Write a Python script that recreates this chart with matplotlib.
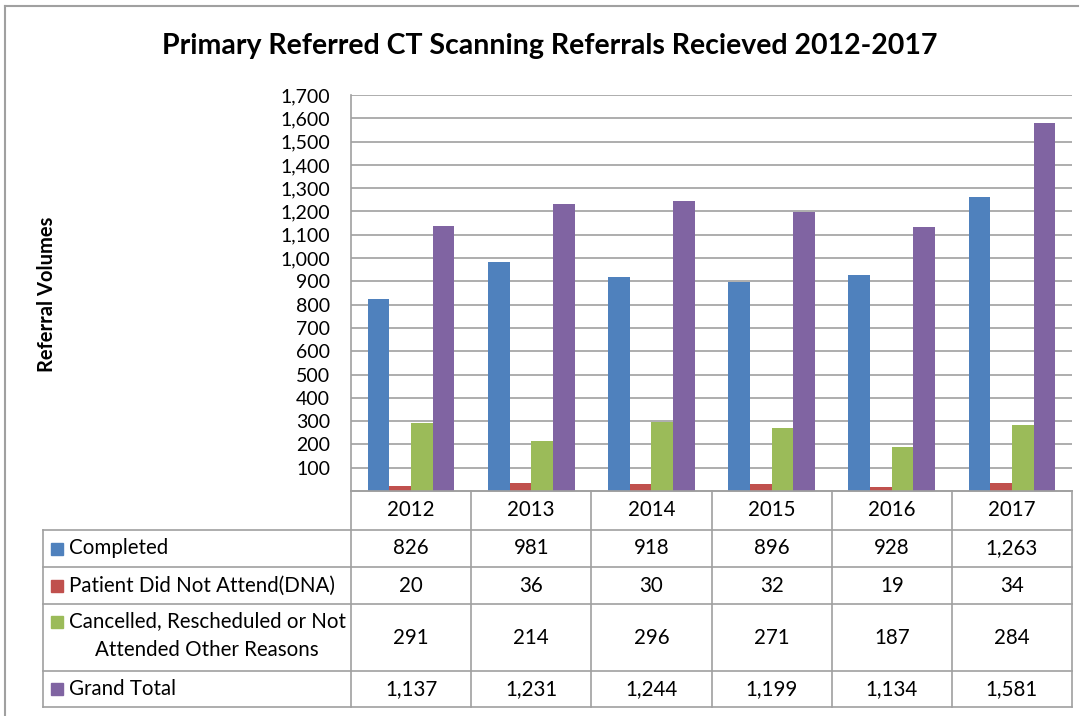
import matplotlib
matplotlib.use("Agg")
import matplotlib.pyplot as plt
import numpy as np

plt.rcParams['font.family'] = ['Lato', 'DejaVu Sans']

years = ['2012', '2013', '2014', '2015', '2016', '2017']
series_names = ['Completed', 'Patient Did Not Attend(DNA)',
                'Cancelled, Rescheduled or Not\nAttended Other Reasons', 'Grand Total']
completed = [826, 981, 918, 896, 928, 1263]
dna = [20, 36, 30, 32, 19, 34]
cancelled = [291, 214, 296, 271, 187, 284]
grand_total = [1137, 1231, 1244, 1199, 1134, 1581]
colors = ['#4F81BD', '#C0504D', '#9BBB59', '#8064A2']
yticks = list(range(100, 1701, 100))

W, H = 1085, 716
fig = plt.figure(figsize=(W / 100, H / 100), dpi=100)

# plot area in pixel coords
px_l, px_r, px_t, px_b = 351, 1072, 95, 491
ax = fig.add_axes([px_l / W, 1 - px_b / H, (px_r - px_l) / W, (px_b - px_t) / H])

all_series = [completed, dna, cancelled, grand_total]
x = np.arange(len(years))
bw = 0.18
for i, (vals, c) in enumerate(zip(all_series, colors)):
    ax.bar(x + (i - 1.5) * bw, vals, width=bw, color=c, zorder=3)

ax.set_xlim(-0.5, len(years) - 0.5)
ax.set_ylim(0, 1700)
ax.set_yticks(yticks)
ax.set_yticklabels([f'{v:,}' for v in yticks], fontsize=14)
ax.set_xticks([])
ax.tick_params(axis='y', length=0, pad=15)
ax.grid(axis='y', color='#A0A0A0', linewidth=1.2, zorder=0)
for s in ['top', 'right']:
    ax.spines[s].set_visible(False)
ax.spines['left'].set_color('#A0A0A0')
ax.spines['left'].set_linewidth(1.2)
ax.spines['bottom'].set_color('#A0A0A0')
ax.spines['bottom'].set_linewidth(1.2)

# overlay in pixel coordinates for title, table and border
ov = fig.add_axes([0, 0, 1, 1], zorder=5)
ov.set_xlim(0, W)
ov.set_ylim(H, 0)
ov.axis('off')
ov.patch.set_alpha(0)

lc = '#A0A0A0'
ov.plot([5, 5], [6, H], color=lc, lw=1.5)
ov.plot([5, 1078], [6, 6], color=lc, lw=1.5)

ov.text(550, 46, 'Primary Referred CT Scanning Referrals Recieved 2012-2017',
        ha='center', va='center', fontsize=20.5, fontweight='bold')
ov.text(47, 294, 'Referral Volumes', rotation=90, ha='center', va='center',
        fontsize=14.5, fontweight='bold')

# data table
tbl_l = 43
col_w = (px_r - px_l) / len(years)
row_edges = [491, 530, 567, 604, 671, 707]
for j in range(len(years) + 1):
    xx = px_l + j * col_w
    ov.plot([xx, xx], [row_edges[0], row_edges[-1]], color=lc, lw=1.2)
ov.plot([tbl_l, tbl_l], [row_edges[1], row_edges[-1]], color=lc, lw=1.2)
for k, yy in enumerate(row_edges):
    x0 = px_l if k == 0 else tbl_l
    ov.plot([x0, px_r], [yy, yy], color=lc, lw=1.2)

fs = 14.8
for j, yr in enumerate(years):
    ov.text(px_l + (j + 0.5) * col_w, (row_edges[0] + row_edges[1]) / 2, yr,
            ha='center', va='center', fontsize=fs)

for r, (name, vals, c) in enumerate(zip(series_names, all_series, colors)):
    y0, y1 = row_edges[r + 1], row_edges[r + 2]
    yc = (y0 + y1) / 2
    lines = name.split('\n')
    if len(lines) == 1:
        ov.add_patch(plt.Rectangle((51, yc - 6), 12, 12, color=c))
        ov.text(69, yc, name, ha='left', va='center', fontsize=fs)
    else:
        ov.add_patch(plt.Rectangle((51, yc - 22), 12, 12, color=c))
        ov.text(69, yc - 16, lines[0], ha='left', va='center', fontsize=fs)
        ov.text(207, yc + 13, lines[1], ha='center', va='center', fontsize=fs)
    for j, v in enumerate(vals):
        ov.text(px_l + (j + 0.5) * col_w, yc, f'{v:,}', ha='center', va='center', fontsize=fs)

fig.savefig('out.png', dpi=100)
